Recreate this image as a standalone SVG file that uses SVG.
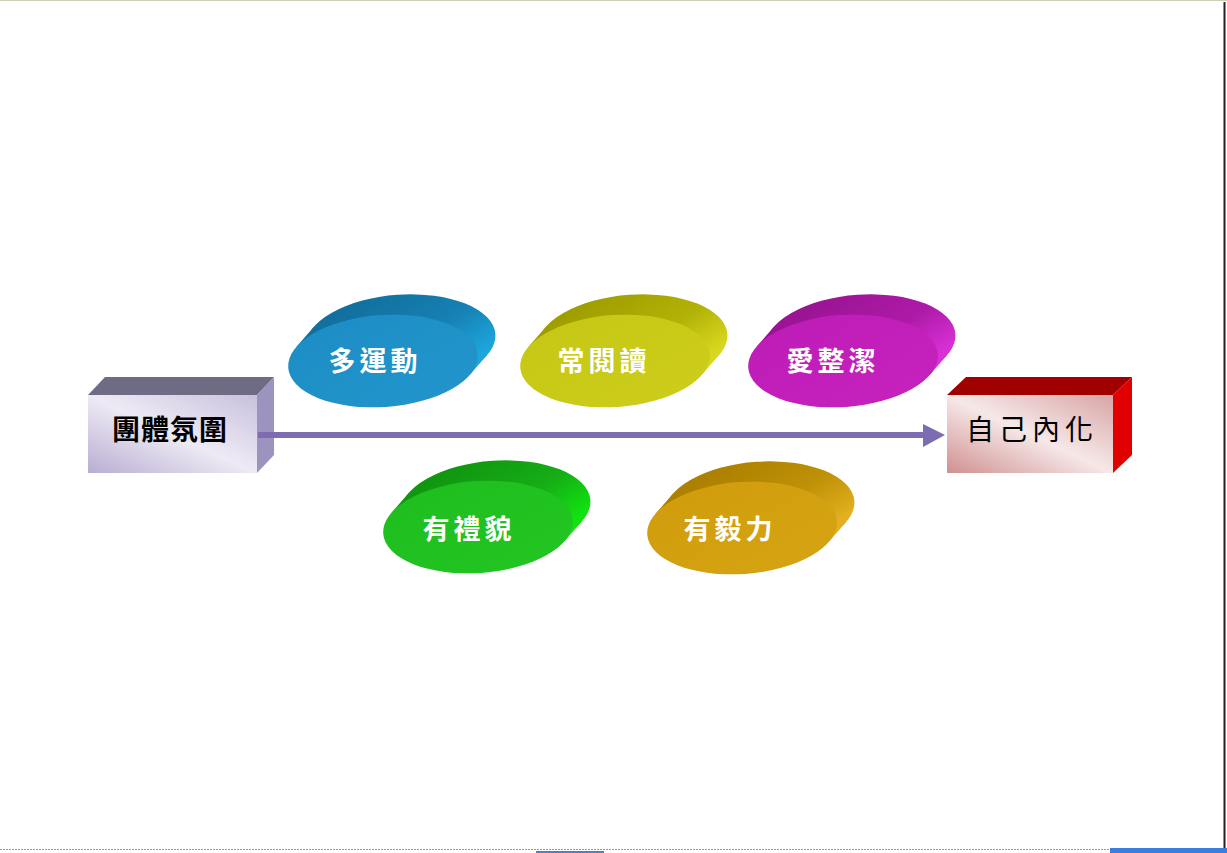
<svg xmlns="http://www.w3.org/2000/svg" xmlns:xlink="http://www.w3.org/1999/xlink" width="1227" height="853" viewBox="0 0 1227 853">
<style>
.lbl{font-family:"Noto Sans CJK TC","Noto Sans CJK SC",sans-serif;font-weight:bold;font-size:27px;fill:#fff;text-anchor:middle;dominant-baseline:central;letter-spacing:4px}
.blbl{font-family:"Noto Sans CJK TC","Noto Sans CJK SC",sans-serif;font-size:28px;fill:#000;text-anchor:middle;dominant-baseline:central;letter-spacing:5px}
.b1{font-weight:bold;letter-spacing:1px}
.conn{stroke:#7E6CB0;stroke-width:6;fill:none}
</style>
<defs>
<g id="diskSide">
<ellipse cx="19" cy="-19" rx="95" ry="46"/>
<polygon points="85.5,20 104.5,1 -66.5,-39 -85.5,-20"/>
</g>
<ellipse id="diskFront" cx="0" cy="0" rx="95" ry="46"/>
<linearGradient id="sBlue" x1="0.3" y1="0" x2="1" y2="0.6"><stop offset="0" stop-color="#11709D"/><stop offset="0.6" stop-color="#1681B4"/><stop offset="1" stop-color="#1CA6DC"/></linearGradient>
<linearGradient id="fBlue" x1="0" y1="0" x2="1" y2="1"><stop offset="0" stop-color="#1D8DC4"/><stop offset="1" stop-color="#2196CC"/></linearGradient>
<linearGradient id="sYel" x1="0.3" y1="0" x2="1" y2="0.6"><stop offset="0" stop-color="#9E9E00"/><stop offset="0.6" stop-color="#B2B206"/><stop offset="1" stop-color="#D8D820"/></linearGradient>
<linearGradient id="fYel" x1="0" y1="0" x2="1" y2="1"><stop offset="0" stop-color="#C6C616"/><stop offset="1" stop-color="#CDCD1A"/></linearGradient>
<linearGradient id="sMag" x1="0.3" y1="0" x2="1" y2="0.6"><stop offset="0" stop-color="#9A1494"/><stop offset="0.6" stop-color="#AE1AA8"/><stop offset="1" stop-color="#D830D6"/></linearGradient>
<linearGradient id="fMag" x1="0" y1="0" x2="1" y2="1"><stop offset="0" stop-color="#BE1CB6"/><stop offset="1" stop-color="#C622BE"/></linearGradient>
<linearGradient id="sGrn" x1="0.3" y1="0" x2="1" y2="0.6"><stop offset="0" stop-color="#10960F"/><stop offset="0.6" stop-color="#16AE16"/><stop offset="1" stop-color="#10E410"/></linearGradient>
<linearGradient id="fGrn" x1="0" y1="0" x2="1" y2="1"><stop offset="0" stop-color="#1EBD1E"/><stop offset="1" stop-color="#22C622"/></linearGradient>
<linearGradient id="sOrg" x1="0.3" y1="0" x2="1" y2="0.6"><stop offset="0" stop-color="#AC8000"/><stop offset="0.6" stop-color="#BF9106"/><stop offset="1" stop-color="#E2B020"/></linearGradient>
<linearGradient id="fOrg" x1="0" y1="0" x2="1" y2="1"><stop offset="0" stop-color="#D09C0C"/><stop offset="1" stop-color="#D6A412"/></linearGradient>
<linearGradient id="fBox1" x1="0" y1="1" x2="1" y2="0"><stop offset="0" stop-color="#B8AED2"/><stop offset="0.5" stop-color="#EEEAF4"/><stop offset="1" stop-color="#C8C0DE"/></linearGradient>
<linearGradient id="fBox2" x1="0" y1="1" x2="1" y2="0"><stop offset="0" stop-color="#D09090"/><stop offset="0.5" stop-color="#F6E8E8"/><stop offset="1" stop-color="#D8A4A4"/></linearGradient>
</defs>
<rect width="1227" height="853" fill="#fff"/>
<g id="frame">
<line x1="0" y1="0.5" x2="1227" y2="0.5" stroke="#D0D0B8"/>
<line x1="1224.5" y1="2" x2="1224.5" y2="849" stroke="#222" stroke-width="2"/>
<line x1="0" y1="849.5" x2="1110" y2="849.5" stroke="#A0A078" stroke-dasharray="2 1"/>
<rect x="1110" y="848" width="117" height="5" fill="#3A7FE0"/>
<rect x="536" y="851" width="68" height="2" fill="#5080C0"/>
</g>
<g id="node-team">
<rect x="88" y="395" width="169" height="78" fill="url(#fBox1)"/>
<polygon points="88,395 105,377 274,377 257,395" fill="#6E6C84"/>
<polygon points="257,395 274,377 274,455 257,473" fill="#9C94BE"/>
<text class="blbl b1" x="170" y="428">團體氛圍</text>
</g>
<g id="node-self">
<rect x="947" y="395" width="166" height="78" fill="url(#fBox2)"/>
<polygon points="947,395 966,377 1132,377 1113,395" fill="#A00000"/>
<polygon points="1113,395 1132,377 1132,455 1113,473" fill="#E00000"/>
<text class="blbl" x="1032" y="428">自己內化</text>
</g>
<g id="connectors">
<line class="conn" x1="258" y1="435" x2="926" y2="435"/>
<polygon points="923,424 945,435 923,447" fill="#7E6CB0"/>
</g>
<g id="node-exercise">
<g transform="translate(383,361) rotate(-4)"><use xlink:href="#diskSide" fill="url(#sBlue)"/><use xlink:href="#diskFront" fill="url(#fBlue)"/></g>
<text class="lbl" x="375" y="359">多運動</text>
</g>
<g id="node-read">
<g transform="translate(615,361) rotate(-4)"><use xlink:href="#diskSide" fill="url(#sYel)"/><use xlink:href="#diskFront" fill="url(#fYel)"/></g>
<text class="lbl" x="604" y="359">常閱讀</text>
</g>
<g id="node-clean">
<g transform="translate(843,361) rotate(-4)"><use xlink:href="#diskSide" fill="url(#sMag)"/><use xlink:href="#diskFront" fill="url(#fMag)"/></g>
<text class="lbl" x="833" y="359">愛整潔</text>
</g>
<g id="node-polite">
<g transform="translate(478,527) rotate(-4)"><use xlink:href="#diskSide" fill="url(#sGrn)"/><use xlink:href="#diskFront" fill="url(#fGrn)"/></g>
<text class="lbl" x="469" y="527">有禮貌</text>
</g>
<g id="node-persist">
<g transform="translate(742,528) rotate(-4)"><use xlink:href="#diskSide" fill="url(#sOrg)"/><use xlink:href="#diskFront" fill="url(#fOrg)"/></g>
<text class="lbl" x="730" y="527">有毅力</text>
</g>
</svg>
